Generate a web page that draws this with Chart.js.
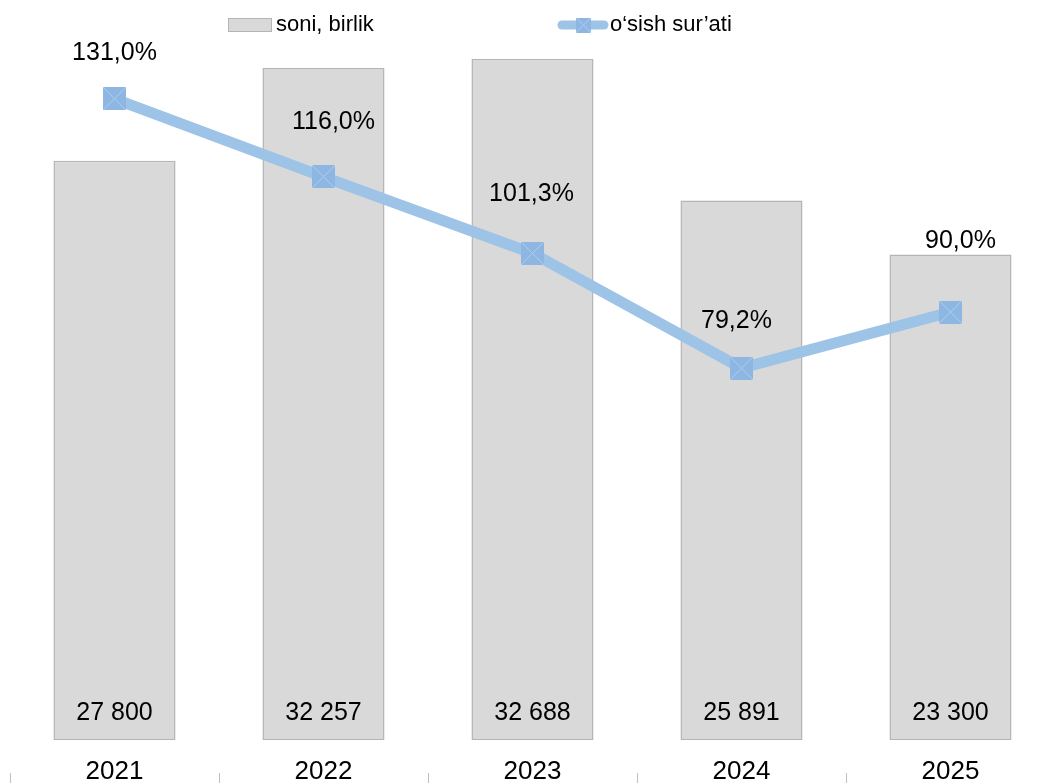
<!DOCTYPE html>
<html>
<head>
<meta charset="utf-8">
<script src="https://cdn.jsdelivr.net/npm/chart.js@4.4.1/dist/chart.umd.min.js"></script>
<style>
    html, body { margin: 0; padding: 0; background: #fff; overflow: hidden; }
    #wrap { width: 1056px; height: 783px; }
</style>
</head>
<body>
<div id="wrap"><canvas id="chart"></canvas></div>
<script>
const years = ['2021', '2022', '2023', '2024', '2025'];
const units = [27800, 32257, 32688, 25891, 23300];
const growth = [131.0, 116.0, 101.3, 79.2, 90.0];
const unitsLabel = 'soni, birlik';
const growthLabel = 'o‘sish sur’ati';

const FONT = '"Liberation Sans", Arial, sans-serif';
const BAR_FILL = '#d9d9d9';
const BAR_EDGE = '#b5b5b5';
const LINE_COLOR = '#9dc3e6';
const MARK_FILL = '#8db6e2';
const MARK_CROSS = '#b3cfee';

const fmtUnits = v => String(v).replace(/\B(?=(\d{3})+(?!\d))/g, ' ');
const fmtPct = v => v.toFixed(1).replace('.', ',') + '%';

// square marker with a light X inside
const makeMarker = (size) => {
    const c = document.createElement('canvas');
    c.width = size;
    c.height = size;
    const g = c.getContext('2d');
    g.fillStyle = MARK_FILL;
    g.fillRect(0, 0, size, size);
    g.strokeStyle = MARK_CROSS;
    g.lineWidth = 1;
    g.beginPath();
    g.moveTo(0, 0); g.lineTo(size, size);
    g.moveTo(size, 0); g.lineTo(0, size);
    g.stroke();
    return c;
};

const valueLabels = {
    id: 'valueLabels',
    afterDatasetsDraw(chart, args, opts) {
        const ctx = chart.ctx;
        ctx.save();
        ctx.font = opts.font;
        ctx.fillStyle = '#000';
        ctx.textAlign = 'center';
        ctx.textBaseline = 'middle';
        const barData = chart.data.datasets[0].data;
        chart.getDatasetMeta(0).data.forEach((bar, i) => {
            ctx.fillText(fmtUnits(barData[i]), bar.x, bar.base - opts.barLift);
        });
        const lineData = chart.data.datasets[1].data;
        chart.getDatasetMeta(1).data.forEach((pt, i) => {
            const [dx, dy] = opts.pointShift[i];
            ctx.fillText(fmtPct(lineData[i]), pt.x + dx, pt.y + dy);
        });
        ctx.restore();
    }
};

const legendRow = {
    id: 'legendRow',
    afterDraw(chart, args, opts) {
        const ctx = chart.ctx;
        const y = opts.y;
        ctx.save();
        ctx.font = opts.font;
        ctx.textBaseline = 'middle';
        ctx.textAlign = 'left';

        // bar swatch
        ctx.fillStyle = BAR_FILL;
        ctx.fillRect(opts.barX, y - 7, 44, 14);
        ctx.strokeStyle = BAR_EDGE;
        ctx.lineWidth = 1;
        ctx.strokeRect(opts.barX + 0.5, y - 6.5, 43, 13);
        ctx.fillStyle = '#000';
        ctx.fillText(chart.data.datasets[0].label, opts.barX + 48, y);

        // line swatch
        ctx.strokeStyle = LINE_COLOR;
        ctx.lineWidth = 9;
        ctx.lineCap = 'round';
        ctx.beginPath();
        ctx.moveTo(opts.lineX + 4, y);
        ctx.lineTo(opts.lineX + 46, y);
        ctx.stroke();
        ctx.drawImage(makeMarker(15), opts.lineX + 18, y - 7.5);
        ctx.fillText(chart.data.datasets[1].label, opts.lineX + 52, y);
        ctx.restore();
    }
};

new Chart(document.getElementById('chart'), {
    data: {
        labels: years,
        datasets: [
            {
                type: 'bar',
                label: unitsLabel,
                data: units,
                backgroundColor: BAR_FILL,
                borderColor: BAR_EDGE,
                borderWidth: 1.5,
                borderSkipped: false,
                barPercentage: 0.584,
                categoryPercentage: 1,
                yAxisID: 'y',
                order: 2
            },
            {
                type: 'line',
                label: growthLabel,
                data: growth,
                borderColor: LINE_COLOR,
                borderWidth: 11,
                pointStyle: makeMarker(23),
                pointRadius: 11,
                tension: 0,
                clip: false,
                yAxisID: 'y2',
                order: 1
            }
        ]
    },
    options: {
        responsive: true,
        maintainAspectRatio: false,
        animation: false,
        layout: { autoPadding: false, padding: { left: 10, right: 1, top: 0, bottom: 0 } },
        plugins: {
            legend: { display: false },
            tooltip: { enabled: false },
            valueLabels: {
                font: '25px ' + FONT,
                barLift: 27,
                pointShift: [[0, -46], [10, -55], [-1, -59], [-5, -47], [10, -71]]
            },
            legendRow: {
                font: '22px ' + FONT,
                y: 25,
                barX: 228,
                lineX: 558
            }
        },
        scales: {
            x: {
                offset: true,
                border: { display: false },
                grid: {
                    offset: true,
                    drawOnChartArea: false,
                    drawTicks: true,
                    tickLength: 43,
                    tickColor: '#bfbfbf',
                    tickBorderDash: [0, 33, 10, 0]
                },
                ticks: {
                    color: '#000',
                    font: { family: FONT, size: 26 },
                    padding: -27,
                    maxRotation: 0
                },
                afterFit: (scale) => { scale.height = 43; }
            },
            y: {
                display: false,
                min: 0,
                max: 35520
            },
            y2: {
                display: false,
                position: 'right',
                min: 7.7,
                max: 150
            }
        }
    },
    plugins: [valueLabels, legendRow]
});
</script>
</body>
</html>
